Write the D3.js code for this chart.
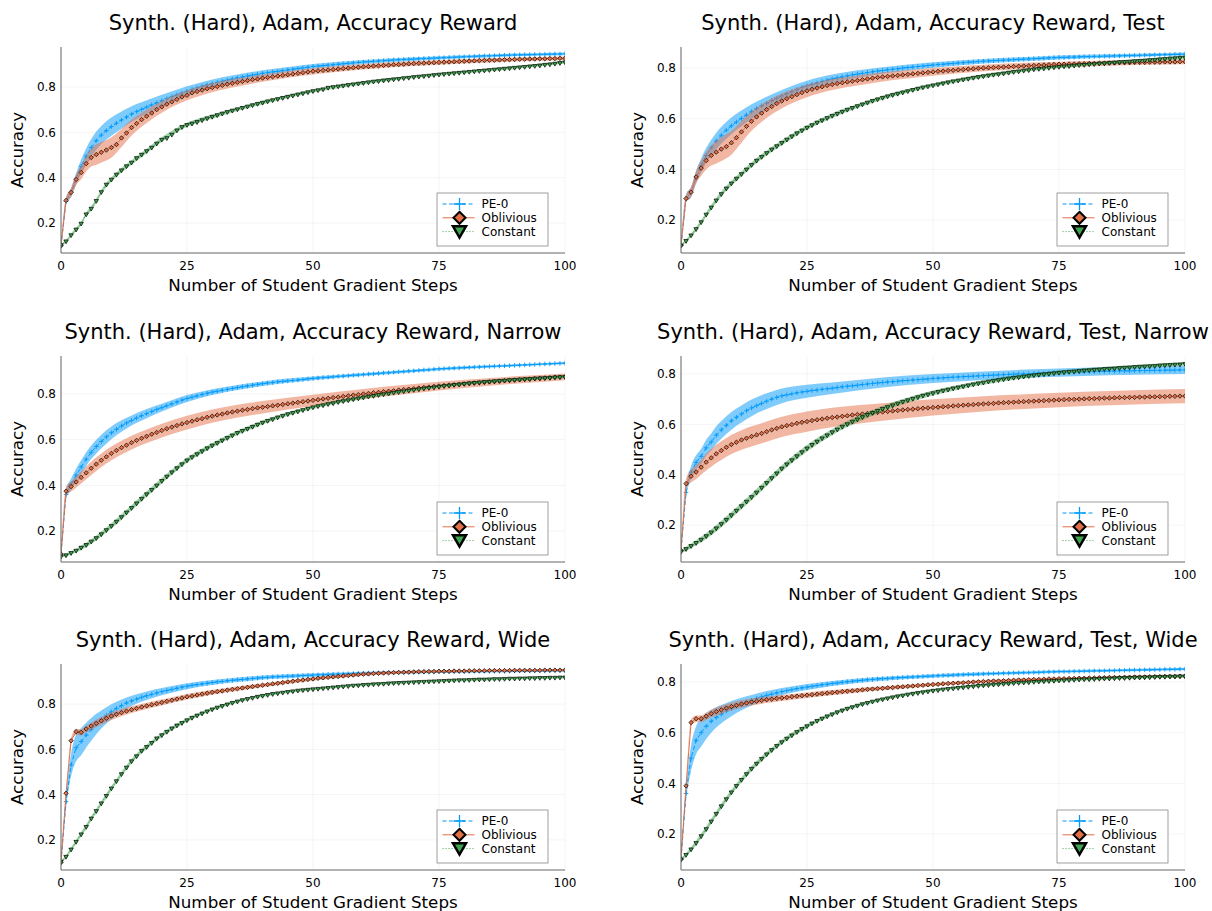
<!DOCTYPE html>
<html><head><meta charset="utf-8">
<script src="https://cdn.jsdelivr.net/npm/d3@7"></script>
<style>body{margin:0;background:#fff} text{font-family:"DejaVu Sans",sans-serif;fill:#000}</style>
</head><body><svg id="c" width="1212" height="911"></svg>
<script>
const steps = d3.range(0, 101);
const xTicks = [0, 25, 50, 75, 100];
const yTicks = [0.2, 0.4, 0.6, 0.8];
const seriesNames = ["PE-0", "Oblivious", "Constant"];
const titles = [
  "Synth. (Hard), Adam, Accuracy Reward",
  "Synth. (Hard), Adam, Accuracy Reward, Test",
  "Synth. (Hard), Adam, Accuracy Reward, Narrow",
  "Synth. (Hard), Adam, Accuracy Reward, Test, Narrow",
  "Synth. (Hard), Adam, Accuracy Reward, Wide",
  "Synth. (Hard), Adam, Accuracy Reward, Test, Wide"
];
const xLabel = "Number of Student Gradient Steps";
const yLabel = "Accuracy";
const yLimits = [[0.068,0.976],[0.070,0.883],[0.065,0.966],[0.054,0.871],[0.067,0.977],[0.058,0.871]];

// ---- panel 1 ----
const p1PE0 = [0.100,0.295,0.335,0.395,0.450,0.495,0.532,0.563,0.588,0.608,
0.625,0.640,0.654,0.667,0.680,0.691,0.701,0.711,0.721,0.730,
0.739,0.748,0.757,0.765,0.773,0.781,0.789,0.796,0.803,0.809,
0.815,0.820,0.825,0.830,0.835,0.840,0.844,0.848,0.852,0.856,
0.860,0.863,0.866,0.869,0.872,0.875,0.878,0.881,0.884,0.887,
0.890,0.892,0.894,0.896,0.898,0.900,0.902,0.904,0.906,0.908,
0.910,0.911,0.913,0.914,0.916,0.917,0.919,0.920,0.921,0.922,
0.923,0.924,0.925,0.926,0.927,0.928,0.929,0.930,0.931,0.932,
0.933,0.934,0.935,0.936,0.937,0.937,0.938,0.939,0.940,0.940,
0.941,0.941,0.942,0.942,0.943,0.943,0.944,0.944,0.945,0.945,0.946];
const p1Obl = [0.100,0.300,0.335,0.392,0.423,0.462,0.489,0.502,0.512,0.522,
0.533,0.546,0.575,0.597,0.621,0.639,0.656,0.671,0.685,0.700,
0.712,0.724,0.734,0.745,0.756,0.763,0.774,0.780,0.786,0.792,
0.797,0.802,0.807,0.812,0.816,0.820,0.824,0.828,0.832,0.835,
0.839,0.842,0.845,0.848,0.851,0.854,0.857,0.860,0.863,0.866,
0.869,0.871,0.873,0.875,0.877,0.879,0.881,0.883,0.885,0.887,
0.889,0.890,0.892,0.893,0.895,0.896,0.898,0.899,0.900,0.902,
0.903,0.904,0.905,0.906,0.907,0.908,0.909,0.910,0.911,0.912,
0.913,0.914,0.915,0.916,0.917,0.918,0.918,0.919,0.920,0.920,
0.921,0.922,0.922,0.923,0.923,0.924,0.924,0.925,0.925,0.926,0.926];
const p1Con = [0.103,0.120,0.147,0.172,0.198,0.239,0.264,0.298,0.337,0.370,
0.392,0.414,0.433,0.451,0.467,0.487,0.502,0.518,0.533,0.551,
0.568,0.575,0.590,0.609,0.624,0.633,0.639,0.646,0.654,0.662,
0.669,0.676,0.683,0.690,0.696,0.702,0.708,0.714,0.720,0.726,
0.731,0.737,0.742,0.747,0.752,0.757,0.762,0.767,0.772,0.777,
0.782,0.786,0.790,0.797,0.800,0.803,0.806,0.809,0.812,0.815,
0.818,0.821,0.824,0.826,0.829,0.831,0.834,0.836,0.839,0.841,
0.844,0.846,0.848,0.850,0.853,0.855,0.857,0.859,0.861,0.863,
0.865,0.867,0.869,0.871,0.873,0.875,0.877,0.879,0.881,0.883,
0.885,0.887,0.889,0.891,0.893,0.895,0.898,0.900,0.903,0.906,0.909];

// ---- panel 2 ----
const p2PE0 = [0.100,0.285,0.310,0.370,0.415,0.455,0.485,0.512,0.535,0.555,
0.572,0.587,0.601,0.615,0.628,0.640,0.651,0.661,0.671,0.681,
0.690,0.699,0.707,0.715,0.723,0.730,0.736,0.741,0.747,0.752,
0.757,0.761,0.765,0.769,0.773,0.776,0.779,0.782,0.785,0.788,
0.790,0.793,0.795,0.797,0.800,0.802,0.804,0.806,0.808,0.810,
0.812,0.814,0.815,0.817,0.818,0.820,0.821,0.823,0.824,0.826,
0.827,0.828,0.829,0.830,0.831,0.832,0.833,0.834,0.835,0.836,
0.837,0.838,0.839,0.840,0.841,0.842,0.842,0.843,0.843,0.844,
0.845,0.845,0.846,0.846,0.847,0.847,0.848,0.848,0.849,0.849,
0.850,0.850,0.851,0.851,0.852,0.852,0.853,0.853,0.854,0.854,0.855];
const p2Obl = [0.100,0.285,0.310,0.370,0.405,0.435,0.455,0.468,0.480,0.490,
0.505,0.525,0.548,0.570,0.590,0.607,0.622,0.636,0.648,0.660,
0.670,0.679,0.687,0.695,0.703,0.710,0.716,0.721,0.726,0.731,
0.735,0.739,0.742,0.745,0.748,0.751,0.754,0.757,0.760,0.763,
0.765,0.767,0.769,0.771,0.773,0.775,0.777,0.779,0.781,0.783,
0.785,0.787,0.788,0.790,0.791,0.793,0.794,0.796,0.797,0.799,
0.800,0.801,0.802,0.803,0.804,0.805,0.806,0.807,0.808,0.809,
0.810,0.811,0.812,0.813,0.814,0.815,0.815,0.816,0.816,0.817,
0.817,0.818,0.818,0.819,0.819,0.820,0.820,0.821,0.821,0.821,
0.822,0.822,0.822,0.823,0.823,0.823,0.824,0.824,0.824,0.825,0.825];
const p2Con = [0.100,0.118,0.140,0.165,0.192,0.222,0.250,0.278,0.303,0.325,
0.345,0.364,0.382,0.400,0.418,0.435,0.450,0.465,0.479,0.492,
0.505,0.518,0.531,0.543,0.554,0.565,0.575,0.585,0.594,0.603,
0.612,0.620,0.628,0.636,0.643,0.650,0.657,0.664,0.671,0.677,
0.683,0.689,0.694,0.699,0.704,0.709,0.714,0.719,0.724,0.728,
0.732,0.736,0.740,0.744,0.748,0.751,0.755,0.758,0.762,0.765,
0.768,0.771,0.774,0.776,0.779,0.782,0.785,0.787,0.790,0.792,
0.795,0.797,0.799,0.801,0.803,0.805,0.807,0.808,0.810,0.812,
0.813,0.815,0.816,0.818,0.819,0.821,0.822,0.824,0.825,0.826,
0.828,0.829,0.830,0.832,0.833,0.835,0.836,0.838,0.839,0.841,0.842];

// ---- panel 3 ----
const p3PE0 = [0.100,0.360,0.405,0.445,0.480,0.515,0.545,0.570,0.592,0.612,
0.630,0.645,0.660,0.673,0.684,0.695,0.705,0.714,0.723,0.732,
0.740,0.749,0.757,0.765,0.773,0.780,0.786,0.792,0.798,0.803,
0.808,0.812,0.816,0.820,0.824,0.828,0.832,0.835,0.838,0.842,
0.845,0.848,0.850,0.853,0.855,0.857,0.859,0.861,0.863,0.866,
0.868,0.870,0.872,0.873,0.875,0.877,0.878,0.880,0.882,0.883,
0.885,0.887,0.888,0.890,0.892,0.893,0.895,0.897,0.898,0.900,
0.901,0.903,0.905,0.906,0.908,0.910,0.911,0.912,0.913,0.914,
0.915,0.916,0.917,0.918,0.919,0.920,0.921,0.922,0.923,0.924,
0.925,0.926,0.927,0.928,0.929,0.930,0.931,0.932,0.933,0.934,0.935];
const p3Obl = [0.100,0.375,0.395,0.415,0.435,0.455,0.475,0.493,0.510,0.525,
0.540,0.553,0.565,0.576,0.587,0.597,0.606,0.615,0.624,0.632,
0.640,0.648,0.655,0.662,0.669,0.675,0.681,0.687,0.692,0.698,
0.703,0.708,0.712,0.717,0.721,0.725,0.729,0.732,0.736,0.739,
0.742,0.745,0.748,0.751,0.754,0.757,0.760,0.763,0.766,0.769,
0.772,0.775,0.778,0.781,0.784,0.786,0.789,0.792,0.795,0.797,
0.800,0.802,0.805,0.807,0.810,0.812,0.814,0.817,0.819,0.821,
0.823,0.826,0.828,0.830,0.833,0.835,0.837,0.839,0.840,0.842,
0.844,0.846,0.848,0.849,0.851,0.853,0.854,0.856,0.858,0.859,
0.861,0.862,0.864,0.865,0.867,0.868,0.870,0.871,0.873,0.874,0.875];
const p3Con = [0.090,0.095,0.105,0.115,0.128,0.140,0.155,0.170,0.187,0.205,
0.223,0.242,0.262,0.282,0.302,0.322,0.342,0.362,0.381,0.400,
0.420,0.439,0.458,0.476,0.493,0.510,0.524,0.537,0.550,0.563,
0.575,0.586,0.597,0.608,0.619,0.630,0.639,0.648,0.657,0.666,
0.675,0.683,0.690,0.698,0.705,0.712,0.718,0.724,0.730,0.736,
0.742,0.747,0.751,0.756,0.760,0.765,0.769,0.773,0.777,0.781,
0.785,0.789,0.792,0.796,0.799,0.802,0.806,0.809,0.812,0.815,
0.818,0.821,0.824,0.827,0.829,0.832,0.835,0.837,0.840,0.842,
0.845,0.847,0.849,0.851,0.853,0.854,0.856,0.858,0.859,0.861,
0.862,0.864,0.865,0.866,0.868,0.869,0.870,0.871,0.873,0.874,0.875];

// ---- panel 4 ----
const p4PE0 = [0.100,0.330,0.410,0.449,0.473,0.507,0.530,0.557,0.578,0.596,
0.614,0.628,0.641,0.654,0.665,0.674,0.683,0.692,0.700,0.707,
0.713,0.717,0.721,0.725,0.728,0.731,0.734,0.736,0.739,0.741,
0.743,0.746,0.749,0.751,0.753,0.755,0.758,0.760,0.762,0.764,
0.766,0.768,0.769,0.771,0.773,0.774,0.776,0.777,0.779,0.780,
0.782,0.783,0.784,0.786,0.787,0.788,0.789,0.790,0.791,0.792,
0.793,0.794,0.795,0.796,0.797,0.798,0.799,0.800,0.800,0.801,
0.802,0.803,0.803,0.804,0.805,0.805,0.806,0.807,0.807,0.808,
0.808,0.809,0.809,0.810,0.810,0.811,0.811,0.812,0.812,0.812,
0.813,0.813,0.813,0.814,0.814,0.814,0.815,0.815,0.815,0.816,0.816];
const p4Obl = [0.100,0.365,0.394,0.411,0.430,0.450,0.467,0.483,0.496,0.509,
0.520,0.529,0.538,0.545,0.552,0.558,0.564,0.571,0.578,0.584,
0.590,0.595,0.599,0.604,0.608,0.611,0.615,0.618,0.621,0.624,
0.627,0.629,0.632,0.634,0.637,0.639,0.641,0.643,0.645,0.647,
0.649,0.651,0.653,0.655,0.657,0.659,0.660,0.662,0.664,0.665,
0.667,0.668,0.670,0.671,0.673,0.674,0.676,0.677,0.678,0.680,
0.681,0.682,0.683,0.685,0.686,0.687,0.688,0.689,0.690,0.691,
0.692,0.693,0.694,0.695,0.696,0.697,0.698,0.699,0.699,0.700,
0.701,0.702,0.702,0.703,0.704,0.704,0.705,0.706,0.706,0.707,
0.707,0.708,0.708,0.709,0.709,0.710,0.710,0.711,0.711,0.712,0.712];
const p4Con = [0.095,0.106,0.118,0.130,0.143,0.157,0.172,0.188,0.205,0.222,
0.240,0.258,0.276,0.294,0.312,0.330,0.349,0.368,0.387,0.406,
0.425,0.442,0.458,0.474,0.490,0.505,0.519,0.532,0.545,0.557,
0.569,0.580,0.591,0.601,0.611,0.620,0.629,0.638,0.646,0.654,
0.662,0.669,0.676,0.683,0.690,0.696,0.702,0.708,0.714,0.719,
0.724,0.729,0.734,0.738,0.743,0.747,0.751,0.755,0.759,0.763,
0.766,0.770,0.773,0.776,0.779,0.782,0.785,0.787,0.790,0.792,
0.795,0.797,0.799,0.801,0.803,0.805,0.807,0.809,0.810,0.812,
0.814,0.815,0.817,0.818,0.820,0.821,0.822,0.824,0.825,0.826,
0.828,0.829,0.830,0.831,0.832,0.834,0.835,0.836,0.837,0.838,0.840];

// ---- panel 5 ----
const p5PE0 = [0.100,0.369,0.531,0.607,0.634,0.663,0.688,0.712,0.732,0.750,
0.766,0.781,0.793,0.805,0.814,0.822,0.830,0.837,0.843,0.849,
0.855,0.860,0.865,0.870,0.875,0.879,0.883,0.886,0.889,0.892,
0.895,0.898,0.900,0.903,0.905,0.907,0.909,0.911,0.913,0.915,
0.917,0.918,0.920,0.921,0.922,0.923,0.924,0.925,0.926,0.927,
0.928,0.929,0.930,0.931,0.932,0.933,0.933,0.934,0.935,0.936,
0.936,0.937,0.937,0.938,0.938,0.939,0.939,0.940,0.940,0.941,
0.941,0.941,0.942,0.942,0.942,0.943,0.943,0.943,0.944,0.944,
0.944,0.944,0.945,0.945,0.945,0.945,0.946,0.946,0.946,0.946,
0.946,0.947,0.947,0.947,0.947,0.947,0.947,0.948,0.948,0.948,0.948];
const p5Obl = [0.100,0.406,0.638,0.678,0.675,0.690,0.703,0.715,0.726,0.737,
0.747,0.755,0.762,0.769,0.775,0.781,0.787,0.792,0.797,0.802,
0.807,0.812,0.817,0.822,0.827,0.832,0.836,0.840,0.844,0.848,
0.852,0.855,0.858,0.862,0.865,0.868,0.871,0.874,0.877,0.880,
0.883,0.886,0.889,0.892,0.895,0.898,0.901,0.904,0.906,0.909,
0.911,0.914,0.916,0.918,0.920,0.922,0.924,0.926,0.928,0.930,
0.932,0.933,0.935,0.936,0.937,0.938,0.939,0.940,0.941,0.941,
0.942,0.943,0.943,0.944,0.944,0.945,0.945,0.945,0.946,0.946,
0.946,0.947,0.947,0.947,0.947,0.948,0.948,0.948,0.948,0.948,
0.949,0.949,0.949,0.949,0.949,0.949,0.950,0.950,0.950,0.950,0.950];
const p5Con = [0.104,0.126,0.158,0.192,0.225,0.258,0.295,0.328,0.362,0.395,
0.428,0.460,0.491,0.520,0.548,0.570,0.594,0.611,0.629,0.649,
0.663,0.678,0.693,0.706,0.717,0.729,0.740,0.750,0.759,0.768,
0.777,0.785,0.792,0.799,0.806,0.812,0.818,0.823,0.828,0.833,
0.837,0.841,0.845,0.848,0.851,0.854,0.857,0.860,0.862,0.864,
0.866,0.868,0.870,0.872,0.874,0.876,0.878,0.880,0.882,0.883,
0.885,0.886,0.888,0.889,0.890,0.892,0.893,0.894,0.895,0.896,
0.897,0.898,0.899,0.900,0.901,0.902,0.903,0.904,0.905,0.906,
0.906,0.907,0.908,0.909,0.909,0.910,0.911,0.911,0.912,0.913,
0.913,0.914,0.914,0.915,0.915,0.916,0.916,0.917,0.917,0.918,0.918];

// ---- panel 6 ----
const p6PE0 = [0.100,0.360,0.500,0.570,0.600,0.625,0.645,0.660,0.673,0.685,
0.695,0.704,0.713,0.721,0.728,0.735,0.741,0.747,0.752,0.757,
0.762,0.766,0.770,0.774,0.777,0.780,0.783,0.786,0.789,0.791,
0.794,0.796,0.799,0.801,0.803,0.805,0.807,0.809,0.810,0.812,
0.813,0.814,0.816,0.817,0.818,0.819,0.820,0.821,0.822,0.823,
0.824,0.825,0.826,0.826,0.827,0.828,0.829,0.830,0.830,0.831,
0.832,0.833,0.833,0.834,0.835,0.835,0.836,0.836,0.837,0.837,
0.838,0.838,0.839,0.840,0.840,0.841,0.841,0.841,0.842,0.842,
0.843,0.843,0.844,0.844,0.844,0.845,0.845,0.846,0.846,0.847,
0.847,0.847,0.848,0.848,0.849,0.849,0.850,0.850,0.850,0.851,0.851];
const p6Obl = [0.100,0.390,0.640,0.655,0.655,0.665,0.675,0.683,0.690,0.697,
0.703,0.708,0.713,0.717,0.721,0.724,0.727,0.730,0.732,0.735,
0.737,0.739,0.742,0.744,0.746,0.748,0.750,0.752,0.754,0.756,
0.758,0.760,0.762,0.764,0.765,0.767,0.769,0.771,0.772,0.774,
0.775,0.777,0.778,0.780,0.781,0.783,0.784,0.786,0.787,0.789,
0.790,0.791,0.793,0.794,0.795,0.796,0.797,0.798,0.800,0.801,
0.802,0.803,0.804,0.804,0.805,0.806,0.807,0.808,0.808,0.809,
0.810,0.810,0.811,0.812,0.812,0.813,0.813,0.814,0.814,0.815,
0.815,0.816,0.816,0.817,0.817,0.818,0.818,0.818,0.819,0.819,
0.820,0.820,0.820,0.821,0.821,0.821,0.822,0.822,0.822,0.823,0.823];
const p6Con = [0.100,0.118,0.140,0.165,0.192,0.220,0.250,0.280,0.310,0.338,
0.365,0.390,0.414,0.437,0.458,0.478,0.497,0.515,0.532,0.548,
0.563,0.577,0.590,0.603,0.615,0.626,0.637,0.647,0.656,0.665,
0.673,0.681,0.688,0.695,0.701,0.707,0.713,0.718,0.723,0.728,
0.732,0.736,0.740,0.744,0.747,0.751,0.754,0.757,0.760,0.763,
0.766,0.768,0.771,0.773,0.775,0.777,0.779,0.781,0.783,0.785,
0.787,0.788,0.790,0.791,0.793,0.794,0.796,0.797,0.798,0.799,
0.801,0.802,0.803,0.804,0.805,0.806,0.807,0.808,0.809,0.810,
0.811,0.811,0.812,0.813,0.814,0.814,0.815,0.816,0.816,0.817,
0.818,0.818,0.819,0.819,0.820,0.821,0.821,0.822,0.822,0.823,0.823];

// ---- ribbon half-widths, read at these steps ----
const ribbonSteps = [0,1,2,3,4,5,6,7,8,10,12,14,17,20,25,30,35,40,50,60,70,80,90,100];
const p1PE0Band = [0.005,0.015,0.02,0.025,0.03,0.035,0.038,0.04,0.04,0.04,0.038,0.035,0.03,0.026,0.022,0.018,0.015,0.013,0.011,0.009,0.008,0.007,0.006,0.006];
const p1OblBand = [0.005,0.015,0.02,0.025,0.03,0.035,0.04,0.045,0.045,0.045,0.04,0.035,0.03,0.026,0.022,0.02,0.018,0.016,0.014,0.012,0.011,0.01,0.009,0.008];
const p1ConBand = [0.005,0.006,0.007,0.008,0.008,0.009,0.01,0.01,0.01,0.01,0.01,0.01,0.01,0.01,0.009,0.009,0.008,0.008,0.007,0.007,0.006,0.006,0.006,0.006];
const p2PE0Band = [0.005,0.015,0.02,0.025,0.028,0.03,0.032,0.033,0.033,0.033,0.031,0.029,0.026,0.023,0.02,0.017,0.015,0.013,0.011,0.009,0.008,0.007,0.006,0.006];
const p2OblBand = [0.005,0.015,0.02,0.025,0.03,0.035,0.04,0.045,0.047,0.047,0.043,0.038,0.033,0.029,0.025,0.022,0.02,0.018,0.015,0.013,0.012,0.011,0.01,0.01];
const p2ConBand = [0.005,0.006,0.007,0.008,0.008,0.009,0.01,0.01,0.01,0.01,0.01,0.01,0.01,0.01,0.009,0.009,0.008,0.008,0.007,0.007,0.006,0.006,0.006,0.006];
const p3PE0Band = [0.005,0.02,0.025,0.028,0.03,0.03,0.03,0.03,0.03,0.028,0.025,0.022,0.02,0.017,0.015,0.013,0.011,0.01,0.008,0.007,0.006,0.006,0.005,0.005];
const p3OblBand = [0.005,0.02,0.022,0.025,0.027,0.028,0.029,0.03,0.03,0.03,0.03,0.03,0.03,0.03,0.03,0.029,0.028,0.027,0.025,0.022,0.02,0.018,0.016,0.015];
const p3ConBand = [0.005,0.006,0.007,0.008,0.009,0.01,0.01,0.011,0.011,0.012,0.012,0.012,0.012,0.012,0.011,0.01,0.01,0.009,0.008,0.007,0.006,0.006,0.006,0.006];
const p4PE0Band = [0.005,0.02,0.025,0.028,0.03,0.032,0.034,0.035,0.035,0.035,0.034,0.033,0.031,0.029,0.026,0.023,0.021,0.02,0.018,0.017,0.016,0.016,0.016,0.016];
const p4OblBand = [0.005,0.02,0.025,0.028,0.03,0.033,0.035,0.036,0.037,0.038,0.039,0.04,0.04,0.04,0.04,0.039,0.037,0.035,0.032,0.03,0.029,0.028,0.028,0.028];
const p4ConBand = [0.005,0.008,0.009,0.01,0.011,0.012,0.012,0.013,0.013,0.013,0.013,0.013,0.013,0.013,0.013,0.012,0.012,0.011,0.01,0.009,0.008,0.008,0.007,0.007];
const p5PE0Band = [0.005,0.03,0.05,0.06,0.06,0.055,0.05,0.045,0.04,0.033,0.027,0.023,0.019,0.016,0.013,0.011,0.01,0.009,0.008,0.007,0.006,0.006,0.005,0.005];
const p5OblBand = [0.005,0.01,0.012,0.013,0.014,0.015,0.016,0.017,0.017,0.017,0.016,0.015,0.014,0.013,0.012,0.011,0.01,0.009,0.008,0.007,0.006,0.005,0.005,0.005];
const p5ConBand = [0.005,0.007,0.008,0.009,0.01,0.01,0.01,0.01,0.01,0.01,0.01,0.01,0.01,0.009,0.008,0.007,0.006,0.006,0.005,0.005,0.005,0.005,0.005,0.005];
const p6PE0Band = [0.005,0.03,0.05,0.055,0.055,0.05,0.045,0.04,0.036,0.03,0.025,0.021,0.017,0.014,0.012,0.01,0.009,0.008,0.007,0.006,0.005,0.005,0.005,0.005];
const p6OblBand = [0.005,0.01,0.012,0.013,0.014,0.015,0.015,0.016,0.016,0.016,0.015,0.014,0.013,0.012,0.011,0.01,0.009,0.008,0.007,0.006,0.006,0.005,0.005,0.005];
const p6ConBand = [0.005,0.007,0.008,0.009,0.01,0.01,0.01,0.01,0.01,0.01,0.01,0.01,0.01,0.009,0.008,0.007,0.006,0.006,0.005,0.005,0.005,0.005,0.005,0.005];

const panels = [
  {series:[p1PE0,p1Obl,p1Con], bands:[p1PE0Band,p1OblBand,p1ConBand]},
  {series:[p2PE0,p2Obl,p2Con], bands:[p2PE0Band,p2OblBand,p2ConBand]},
  {series:[p3PE0,p3Obl,p3Con], bands:[p3PE0Band,p3OblBand,p3ConBand]},
  {series:[p4PE0,p4Obl,p4Con], bands:[p4PE0Band,p4OblBand,p4ConBand]},
  {series:[p5PE0,p5Obl,p5Con], bands:[p5PE0Band,p5OblBand,p5ConBand]},
  {series:[p6PE0,p6Obl,p6Con], bands:[p6PE0Band,p6OblBand,p6ConBand]}
];

const colors = ["#009AFA", "#E36F47", "#3EA44E"];
const dashes = ["4,2.5", null, "1,2"];
const markerTypes = ["cross", "diamond", "dtriangle"];
const colLeft = [61, 681], plotW = 504;
const rowTop = [47, 356, 664], plotH = 206;

const svg = d3.select("#c");

function markerPath(type, cx, cy, s) {
  if (type === "cross") return `M${cx-s},${cy}H${cx+s}M${cx},${cy-s}V${cy+s}`;
  if (type === "diamond") return `M${cx},${cy-s}L${cx+s},${cy}L${cx},${cy+s}L${cx-s},${cy}Z`;
  return `M${cx-s},${cy-s*0.58}L${cx+s},${cy-s*0.58}L${cx},${cy+s*1.15}Z`;
}
function drawMarker(g, type, cx, cy, s, k, sw) {
  const p = g.append("path").attr("d", markerPath(type, cx, cy, s));
  if (type === "cross") p.attr("fill", "none").attr("stroke", colors[k]).attr("stroke-width", sw);
  else p.attr("fill", colors[k]).attr("stroke", "#000").attr("stroke-width", sw).attr("stroke-linejoin","miter");
}

panels.forEach((p, i) => {
  const left = colLeft[i % 2], top = rowTop[Math.floor(i / 2)];
  const x = d3.scaleLinear().domain([0, 100]).range([left, left + plotW]);
  const y = d3.scaleLinear().domain(yLimits[i]).range([top + plotH, top]);
  const g = svg.append("g");

  // grid
  g.selectAll(null).data(xTicks).join("line")
    .attr("x1", d => x(d)).attr("x2", d => x(d)).attr("y1", top).attr("y2", top + plotH)
    .attr("stroke", "#000").attr("stroke-opacity", 0.08).attr("stroke-width", 0.6);
  g.selectAll(null).data(yTicks).join("line")
    .attr("x1", left).attr("x2", left + plotW).attr("y1", d => y(d)).attr("y2", d => y(d))
    .attr("stroke", "#000").attr("stroke-opacity", 0.08).attr("stroke-width", 0.6);

  // series
  const clipId = "clip" + i;
  svg.append("clipPath").attr("id", clipId).append("rect")
    .attr("x", left).attr("y", top).attr("width", plotW).attr("height", plotH);
  const sg = g.append("g").attr("clip-path", `url(#${clipId})`);
  p.series.forEach((s, k) => {
    const band = ribbonSteps.map((st, j) => ({s: st, lo: s[st] - p.bands[k][j], hi: s[st] + p.bands[k][j]}));
    sg.append("path").datum(band)
      .attr("d", d3.area().x(d => x(d.s)).y0(d => y(d.lo)).y1(d => y(d.hi)).curve(d3.curveMonotoneX))
      .attr("fill", colors[k]).attr("fill-opacity", 0.5);
    const ln = sg.append("path").datum(steps)
      .attr("d", d3.line().x(d => x(d)).y(d => y(s[d])))
      .attr("fill", "none").attr("stroke", colors[k]).attr("stroke-width", 1);
    if (dashes[k]) ln.attr("stroke-dasharray", dashes[k]);
    const mg = sg.append("g");
    steps.forEach(d => drawMarker(mg, markerTypes[k], x(d), y(s[d]), k === 0 ? 2.3 : 2.2, k, k === 0 ? 0.9 : 0.7));
  });

  // axes lines
  g.append("line").attr("x1", left).attr("x2", left).attr("y1", top).attr("y2", top + plotH)
    .attr("stroke", "#666").attr("stroke-width", 1);
  g.append("line").attr("x1", left).attr("x2", left + plotW).attr("y1", top + plotH).attr("y2", top + plotH)
    .attr("stroke", "#666").attr("stroke-width", 1);

  // tick labels
  g.selectAll(null).data(xTicks).join("text")
    .attr("x", d => x(d)).attr("y", top + plotH + 17).attr("text-anchor", "middle")
    .attr("font-size", 12).text(d => d);
  g.selectAll(null).data(yTicks).join("text")
    .attr("x", left - 5).attr("y", d => y(d) + 4.3).attr("text-anchor", "end")
    .attr("font-size", 12).text(d => d.toFixed(1));

  // titles and labels
  g.append("text").attr("x", left + plotW / 2).attr("y", top - 17).attr("text-anchor", "middle")
    .attr("font-size", 21).text(titles[i]);
  g.append("text").attr("x", left + plotW / 2).attr("y", top + plotH + 38).attr("text-anchor", "middle")
    .attr("font-size", 16.7).text(xLabel);
  g.append("text").attr("transform", `translate(${left - 38},${top + plotH / 2}) rotate(-90)`)
    .attr("text-anchor", "middle").attr("font-size", 16.7).text(yLabel);

  // legend
  const lw = 111, lh = 53;
  const lg = g.append("g").attr("transform", `translate(${left + plotW - 17 - lw},${top + plotH - 7 - lh})`);
  lg.append("rect").attr("width", lw).attr("height", lh).attr("fill", "#fff")
    .attr("stroke", "#888").attr("stroke-width", 0.8);
  seriesNames.forEach((n, k) => {
    const cy = 11 + k * 13.8;
    const l = lg.append("line").attr("x1", 5.5).attr("x2", 37.5).attr("y1", cy).attr("y2", cy)
      .attr("stroke", colors[k]).attr("stroke-width", 1);
    if (dashes[k]) l.attr("stroke-dasharray", dashes[k]);
    if (k === 0) drawMarker(lg, "cross", 22.5, cy, 6, k, 1.3);
    else if (k === 1) drawMarker(lg, "diamond", 22.5, cy, 6, k, 2);
    else drawMarker(lg, "dtriangle", 22.5, cy - 1.5, 6.5, k, 2.5);
    lg.append("text").attr("x", 44.5).attr("y", cy + 4.3).attr("font-size", 12).text(n);
  });
});
</script></body></html>
